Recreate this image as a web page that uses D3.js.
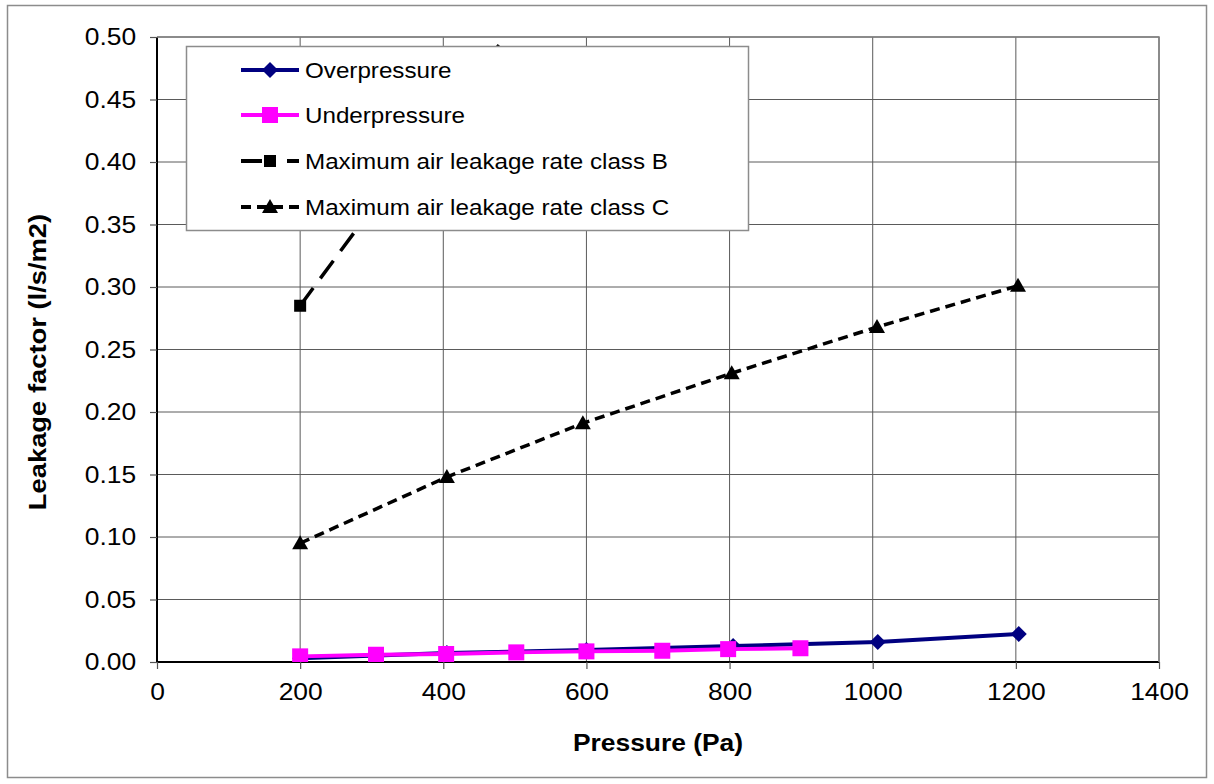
<!DOCTYPE html>
<html>
<head>
<meta charset="utf-8">
<script src="https://cdn.jsdelivr.net/npm/d3@7"></script>
<style>
  body { margin: 0; background: #fff; }
  text { font-family: Arial, "Liberation Sans", sans-serif; fill: #000; }
</style>
</head>
<body>
<div id="chart"></div>
<script>
// Data
var overPressure = [200, 405, 600, 805, 1007, 1204];
var overValues = [0.003, 0.0072, 0.0096, 0.0128, 0.016, 0.0224];

var underPressure = [200, 306, 404, 502, 600, 706, 798, 899];
var underValues = [0.0045, 0.0058, 0.0064, 0.0077, 0.0085, 0.009, 0.0103, 0.011];

var classPressure = [200, 405, 595, 803, 1006, 1203];
var classBValues = [0.285, 0.444, 0.573, 0.693, 0.804, 0.903];
var classCValues = [0.095, 0.148, 0.191, 0.231, 0.268, 0.301];

var xTicks = [0, 200, 400, 600, 800, 1000, 1200, 1400];
var yTicks = [0, 0.05, 0.10, 0.15, 0.20, 0.25, 0.30, 0.35, 0.40, 0.45, 0.50];

var seriesNames = ["Overpressure", "Underpressure",
    "Maximum air leakage rate class B", "Maximum air leakage rate class C"];

// SVG size
var svgWidth = 1214;
var svgHeight = 784;

var margin = { top: 37, left: 157, right: 55, bottom: 122 };
var chartWidth = svgWidth - margin.left - margin.right;
var chartHeight = svgHeight - margin.top - margin.bottom;

// the original text is a little stretched sideways
var stretch = 1.1;

var svg = d3.select("#chart")
    .append("svg")
    .attr("width", svgWidth)
    .attr("height", svgHeight);

// Outer chart border
svg.append("rect")
    .attr("x", 7.5)
    .attr("y", 5.5)
    .attr("width", 1199)
    .attr("height", 772)
    .attr("fill", "none")
    .attr("stroke", "#8c8c8c")
    .attr("stroke-width", 1.5);

var chartGroup = svg.append("g")
    .attr("transform", `translate(${margin.left}, ${margin.top})`);

var x = d3.scaleLinear().domain([0, 1400]).range([0, chartWidth]);
var y = d3.scaleLinear().domain([0, 0.5]).range([chartHeight, 0]);

// Gridlines
chartGroup.append("g")
    .selectAll("line")
    .data(xTicks.slice(1))
    .enter()
    .append("line")
    .attr("x1", d => x(d)).attr("x2", d => x(d))
    .attr("y1", 0).attr("y2", chartHeight)
    .attr("stroke", "#5a5a5a")
    .attr("stroke-width", 1);

chartGroup.append("g")
    .selectAll("line")
    .data(yTicks.slice(1))
    .enter()
    .append("line")
    .attr("x1", 0).attr("x2", chartWidth)
    .attr("y1", d => y(d)).attr("y2", d => y(d))
    .attr("stroke", "#5a5a5a")
    .attr("stroke-width", 1);

// Axes
var yAxis = d3.axisLeft(y).tickValues(yTicks).tickFormat(d3.format(".2f")).tickSize(7).tickPadding(12);
var xAxis = d3.axisBottom(x).tickValues(xTicks).tickFormat(d3.format("d")).tickSize(7).tickPadding(14);

var yG = chartGroup.append("g").call(yAxis);
var xG = chartGroup.append("g")
    .attr("transform", "translate(0, " + chartHeight + ")")
    .call(xAxis);

[yG, xG].forEach(function(g) {
    g.select(".domain").attr("stroke", "#000").attr("stroke-width", 2);
    g.selectAll(".tick line").attr("stroke", "#555").attr("stroke-width", 1.2);
    g.selectAll(".tick text").attr("font-size", 24).attr("fill", "#000")
        .attr("transform", `scale(${stretch},1)`)
        .style("font-family", "Arial, 'Liberation Sans', sans-serif");
});
yG.select(".domain").attr("d", `M0,0V${chartHeight}`);
xG.select(".domain").attr("d", `M0,0H${chartWidth}`);

// Clip to plot area
svg.append("clipPath").attr("id", "plotClip")
    .append("rect")
    .attr("x", 0).attr("y", 0)
    .attr("width", chartWidth).attr("height", chartHeight);

var plot = chartGroup.append("g").attr("clip-path", "url(#plotClip)");

var lineGen = d3.line().x(d => x(d[0])).y(d => y(d[1]));

var overData = d3.zip(overPressure, overValues);
var underData = d3.zip(underPressure, underValues);
var classBData = d3.zip(classPressure, classBValues);
var classCData = d3.zip(classPressure, classCValues);

function diamondPath(s) {
    return `M0,${-s}L${s},0L0,${s}L${-s},0Z`;
}
function trianglePath(s) {
    return `M0,${-s}L${s},${s * 0.75}L${-s},${s * 0.75}Z`;
}

// Class C
plot.append("path")
    .datum(classCData)
    .attr("d", lineGen)
    .attr("fill", "none")
    .attr("stroke", "#000")
    .attr("stroke-width", 3.5)
    .attr("stroke-dasharray", "10,6");
plot.selectAll(".markC")
    .data(classCData)
    .enter()
    .append("path")
    .attr("class", "markC")
    .attr("transform", d => `translate(${x(d[0])},${y(d[1])})`)
    .attr("d", trianglePath(8))
    .attr("fill", "#000");

// Class B
plot.append("path")
    .datum(classBData)
    .attr("d", lineGen)
    .attr("fill", "none")
    .attr("stroke", "#000")
    .attr("stroke-width", 3.5)
    .attr("stroke-dasharray", "22,12");
plot.selectAll(".markB")
    .data(classBData)
    .enter()
    .append("rect")
    .attr("class", "markB")
    .attr("x", d => x(d[0]) - 6)
    .attr("y", d => y(d[1]) - 6)
    .attr("width", 12)
    .attr("height", 12)
    .attr("fill", "#000");

// Overpressure
plot.append("path")
    .datum(overData)
    .attr("d", lineGen)
    .attr("fill", "none")
    .attr("stroke", "#000080")
    .attr("stroke-width", 4);
plot.selectAll(".markO")
    .data(overData)
    .enter()
    .append("path")
    .attr("class", "markO")
    .attr("transform", d => `translate(${x(d[0])},${y(d[1])})`)
    .attr("d", diamondPath(8))
    .attr("fill", "#000080");

// Underpressure
plot.append("path")
    .datum(underData)
    .attr("d", lineGen)
    .attr("fill", "none")
    .attr("stroke", "#ff00ff")
    .attr("stroke-width", 4);
plot.selectAll(".markU")
    .data(underData)
    .enter()
    .append("rect")
    .attr("class", "markU")
    .attr("x", d => x(d[0]) - 8)
    .attr("y", d => y(d[1]) - 8)
    .attr("width", 16)
    .attr("height", 16)
    .attr("fill", "#ff00ff");

// Plot area border (top and right)
chartGroup.append("path")
    .attr("d", `M0,0H${chartWidth}V${chartHeight}`)
    .attr("fill", "none")
    .attr("stroke", "#808080")
    .attr("stroke-width", 1.5);

// Axis titles
svg.append("text")
    .attr("transform", `translate(${margin.left + chartWidth / 2}, 751) scale(${stretch},1)`)
    .attr("text-anchor", "middle")
    .attr("font-size", 24)
    .attr("font-weight", "bold")
    .text("Pressure (Pa)");

svg.append("text")
    .attr("transform", `translate(46, 362) rotate(-90) scale(1.14,1)`)
    .attr("text-anchor", "middle")
    .attr("font-size", 24)
    .attr("font-weight", "bold")
    .text("Leakage factor (l/s/m2)");

// Legend
var legend = svg.append("g");
legend.append("rect")
    .attr("x", 186.5)
    .attr("y", 46.5)
    .attr("width", 562)
    .attr("height", 184)
    .attr("fill", "#fff")
    .attr("stroke", "#8c8c8c")
    .attr("stroke-width", 1.5);

var legendStyles = [
    { color: "#000080", dash: null, marker: "diamond" },
    { color: "#ff00ff", dash: null, marker: "square" },
    { color: "#000", dash: "21,25,20", marker: "smallsquare" },
    { color: "#000", dash: "10,6", marker: "triangle" }
];
var legendRows = [70, 115, 161, 207];

seriesNames.forEach(function(name, i) {
    var st = legendStyles[i];
    var row = legend.append("g").attr("transform", `translate(0, ${legendRows[i]})`);
    var ln = row.append("line")
        .attr("x1", 241).attr("x2", 299)
        .attr("y1", 0).attr("y2", 0)
        .attr("stroke", st.color)
        .attr("stroke-width", 4);
    if (st.dash) ln.attr("stroke-dasharray", st.dash);
    if (st.marker == "diamond") {
        row.append("path").attr("transform", "translate(270,0)").attr("d", diamondPath(8)).attr("fill", st.color);
    } else if (st.marker == "square") {
        row.append("rect").attr("x", 262).attr("y", -8).attr("width", 16).attr("height", 16).attr("fill", st.color);
    } else if (st.marker == "smallsquare") {
        row.append("rect").attr("x", 264).attr("y", -6).attr("width", 12).attr("height", 12).attr("fill", st.color);
    } else {
        row.append("path").attr("transform", "translate(270,0)").attr("d", trianglePath(8)).attr("fill", st.color);
    }
    row.append("text")
        .attr("transform", `translate(305,0) scale(${stretch},1)`)
        .attr("dy", "0.35em")
        .attr("font-size", 22)
        .text(name);
});
</script>
</body>
</html>
